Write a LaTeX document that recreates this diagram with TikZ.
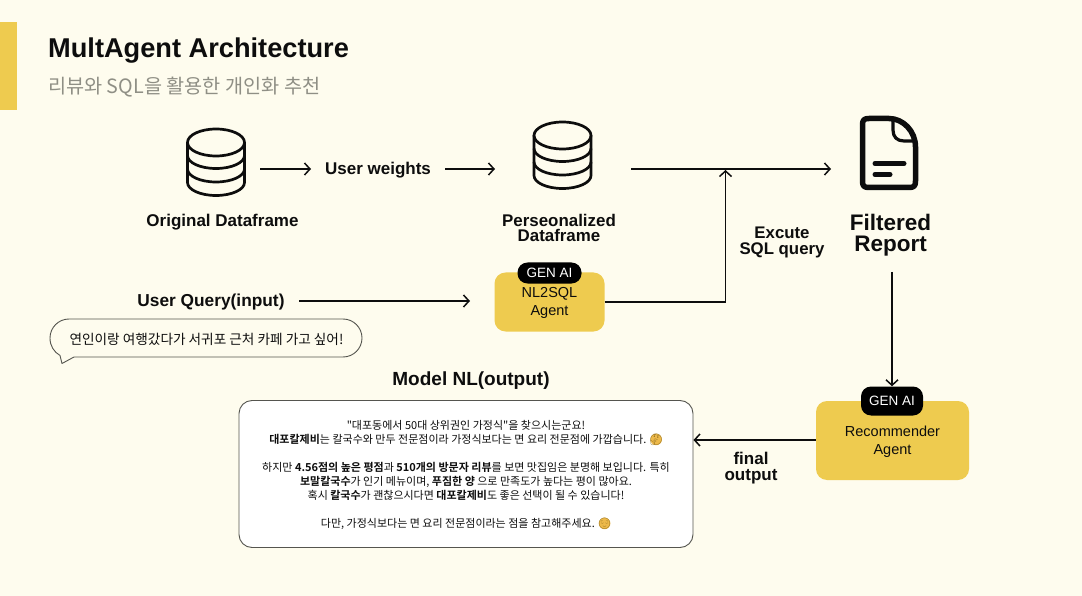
\documentclass[tikz,border=0pt]{standalone}
\usepackage{fontspec}
\usetikzlibrary{arrows.meta,calc}
\setmainfont{Liberation Sans}
\newfontfamily\kr{Noto Sans CJK KR}
\newfontfamily\krb{Noto Sans CJK KR Bold}
\newfontfamily\emo{Noto Emoji}
\definecolor{bgc}{HTML}{FEFCEE}
\definecolor{ylw}{HTML}{EECB4F}
\definecolor{ink}{HTML}{0D0D0D}
\definecolor{gry}{HTML}{8F8F85}
\definecolor{edgec}{HTML}{55554F}
\definecolor{emoc}{HTML}{EDB94A}
\definecolor{emod}{HTML}{8A6A20}
\tikzset{
  conn/.style={draw=ink,line width=1.6pt,-{Straight Barb[length=5.5pt,width=12pt,line width=1.5pt]}},
  lbl/.style={text=ink,align=center,inner sep=0pt,font=\bfseries\fontsize{17}{16}\selectfont},
  agent/.style={fill=ylw,rounded corners=11pt,draw=none,inner sep=0pt},
  pill/.style={fill=black,text=white,rounded corners=10pt,inner sep=0pt,font=\fontsize{13.5}{14}\selectfont},
  agtxt/.style={text=ink,align=center,inner sep=0pt,font=\fontsize{14.5}{18}\selectfont},
  body/.style={text=ink,align=center,inner sep=0pt,font=\kr\fontsize{11}{14}\selectfont},
  icon/.style={draw=ink,line width=2.7pt,line join=round},
}
\newcommand{\dbicon}[2]{%
  \draw[icon] (#1-28.5,#2-12.5) -- (#1-28.5,#2+27.5) arc[start angle=180,end angle=0,x radius=28.5,y radius=13] -- (#1+28.5,#2-12.5);
  \draw[icon] (#1,#2-12.5) ellipse[x radius=28.5,y radius=13.5];
  \draw[icon] (#1-28.5,#2+0.5) arc[start angle=180,end angle=0,x radius=28.5,y radius=13];
  \draw[icon] (#1-28.5,#2+14) arc[start angle=180,end angle=0,x radius=28.5,y radius=13];
}
\newcommand{\bb}[1]{{\krb #1}}
\newcommand{\emj}[1]{\makebox[13pt][c]{\raisebox{-2.2pt}[0pt][0pt]{\tikz{\fill[emoc] (0,0) circle[radius=5.8pt];}}}\kern-13pt\makebox[13pt][c]{\emo\textcolor{emod}{#1}}}
\begin{document}
\begin{tikzpicture}[x=1pt,y=-1pt]
\useasboundingbox (0,0) rectangle (1082,596);
\fill[bgc] (0,0) rectangle (1082,596);
\fill[ylw] (0,22) rectangle (17,110);
\node[anchor=west,inner sep=0pt,text=ink,font=\bfseries\fontsize{27.2}{27}\selectfont] (title) at (48,51) {MultAgent Architecture};
\node[anchor=west,inner sep=0pt,text=gry,font=\kr\fontsize{19.7}{20}\selectfont] (sub) at (48,87.5) {리뷰와 SQL을 활용한 개인화 추천};

% database icons
\dbicon{216}{155}
\dbicon{562.5}{148}
\coordinate (db1e) at (260,169);
\node[lbl] (orig) at (222.5,222) {Original Dataframe};
\node[lbl] (uw) at (378,170) {User weights};
\coordinate (uwE) at (495,169);
\coordinate (uwI) at (311,169);
\coordinate (uwO) at (445,169);
\draw[conn] (db1e) -- (uwI);
\draw[conn] (uwO) -- (uwE);
\node[lbl,font=\bfseries\fontsize{16.9}{15.5}\selectfont] (perso) at (559,228) {Perseonalized\\Dataframe};

% document icon
\draw[draw=ink,line width=5.5pt,line join=round] (889,118.5) -- (869,118.5) .. controls (864,118.5) and (862.5,120) .. (862.5,125) -- (862.5,181) .. controls (862.5,186) and (864,187.5) .. (869,187.5) -- (909,187.5) .. controls (914,187.5) and (915.5,186) .. (915.5,181) -- (915.5,147) .. controls (915.5,131) and (903,118.5) .. (889,118.5);
\draw[draw=ink,line width=3.2pt,line join=round] (893,118.5) -- (893,130) .. controls (893,137) and (897,141) .. (904,141) -- (915,141);
\draw[ink,line width=5pt,line cap=round] (875,163.5) -- (904,163.5);
\draw[ink,line width=5pt,line cap=round] (875,174.5) -- (890,174.5);
\node[lbl,font=\bfseries\fontsize{22.5}{21}\selectfont] (rep) at (890.5,235) {Filtered\\Report};

\coordinate (c1) at (631,169);
\coordinate (c2) at (831,169);
\draw[conn] (c1) -- (c2);

% NL2SQL
\node[agent,minimum width=110pt,minimum height=59pt] (nl) at (549.5,302) {};
\node[pill,minimum width=64pt,minimum height=21pt] (g1) at (549.5,273) {GEN AI};
\node[agtxt] (nlt) at (549.5,303) {NL2SQL\\Agent};
\coordinate (jn) at (725.5,302);
\coordinate (jt) at (725.5,170);
\draw[conn] (nl.east) -- (jn) -- (jt);
\node[lbl,font=\bfseries\fontsize{16.8}{16}\selectfont] (ex) at (782,242) {Excute\\SQL query};

% input
\node[lbl,font=\bfseries\fontsize{17.3}{16}\selectfont] (uq) at (211,302) {User Query(input)};
\coordinate (inS) at (299,301);
\coordinate (nlin) at (470,301);
\draw[conn] (inS) -- (nlin);

% bubble
\draw[draw=edgec,line width=.9pt,fill=bgc,line join=round] (74,357) -- (343,357) .. controls (353.5,357) and (362,348.5) .. (362,338) .. controls (362,327.5) and (353.5,319) .. (343,319) -- (69,319) .. controls (58.5,319) and (50,327.5) .. (50,338) .. controls (50,346) and (54,352) .. (60,355.5) -- (62,363.5) -- cycle;
\node[inner sep=0pt,text=ink,font=\kr\fontsize{13.65}{14}\selectfont] (bt) at (206.5,339) {연인이랑 여행갔다가 서귀포 근처 카페 가고 싶어!};

% report -> recommender
\node[agent,minimum width=153pt,minimum height=79pt] (rec) at (892.5,440.5) {};
\node[pill,minimum width=62pt,minimum height=29pt] (g2) at (892,401) {GEN AI};
\node[agtxt] (rect) at (892.5,442) {Recommender\\Agent};
\coordinate (rs) at (892,272);
\draw[conn] (rs) -- (g2.north);

% output
\node[text=ink,inner sep=0pt,font=\bfseries\fontsize{19}{19}\selectfont] (mnl) at (471,381) {Model NL(output)};
\node[draw=edgec,line width=.9pt,fill=white,rounded corners=13pt,minimum width=454pt,minimum height=147pt,inner sep=0pt] (box) at (466,474) {};
\node[body] (bd) at (466,474.5) {"대포동에서 50대 상위권인 가정식"을 찾으시는군요!\\
\bb{대포칼제비}는 칼국수와 만두 전문점이라 가정식보다는 면 요리 전문점에 가깝습니다. \emj{🤔}\\[14pt]
하지만 \bb{4.56점의 높은 평점}과 \bb{510개의 방문자 리뷰}를 보면 맛집임은 분명해 보입니다. 특히\\
\bb{보말칼국수}가 인기 메뉴이며, \bb{푸짐한 양} 으로 만족도가 높다는 평이 많아요.\\
혹시 \bb{칼국수}가 괜찮으시다면 \bb{대포칼제비}도 좋은 선택이 될 수 있습니다!\\[14pt]
다만, 가정식보다는 면 요리 전문점이라는 점을 참고해주세요. \emj{😌}};
\coordinate (recW) at (rec.west |- 0,440);
\coordinate (boxE) at (box.east |- 0,440);
\draw[conn] (recW) -- (boxE);
\node[lbl] (fo) at (751,468) {final\\output};
\end{tikzpicture}
\end{document}
